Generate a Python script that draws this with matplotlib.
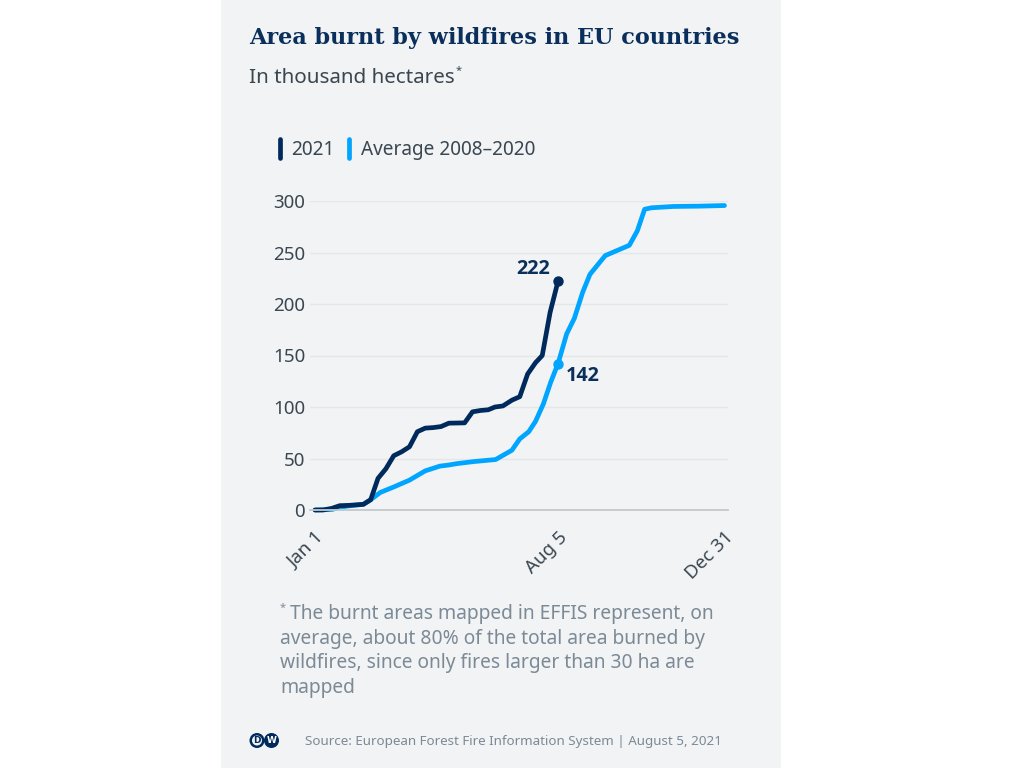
import matplotlib
matplotlib.use("Agg")
import matplotlib.pyplot as plt
from matplotlib.patches import Circle, Rectangle

# day of year, thousand hectares
days_2021 = [0, 7, 15, 22, 30, 43, 49.5, 56, 63, 70, 77, 84, 91, 98, 105, 112, 119, 133,
             140, 147, 154, 160, 167, 175, 182, 189, 196, 202, 209, 216]
area_2021 = [0, 0, 1.6, 4.2, 4.5, 5.5, 10, 30.7, 40, 52.7, 56.5, 61.4, 76, 79.5, 80, 81, 84.3, 84.6,
             95.3, 96.6, 97.3, 100, 101, 106.6, 110, 132, 143, 150, 192, 222]
days_avg = [0, 15, 22, 30, 43, 49.5, 58, 70.5, 84, 98, 111, 118.5, 126, 141, 160.6, 175, 182, 190,
            196, 203, 209.5, 216, 223.7, 230.5, 238, 244.4, 252, 258, 279.4, 286.5, 293, 299,
            318.5, 342, 364]
area_avg = [0, 0.5, 2.5, 4, 5.5, 10, 17, 22.6, 29, 38, 42.6, 43.6, 45, 47, 49, 58, 69, 76,
            86, 103, 124, 142, 171, 186, 211.6, 228.8, 239, 247, 257, 271, 292, 293.4,
            294.7, 295, 295.6]
y_ticks = [0, 50, 100, 150, 200, 250, 300]
x_ticks = [0, 216, 364]
x_labels = ["Jan 1", "Aug 5", "Dec 31"]

NAVY = "#002a5c"
BLUE = "#00a5ff"
PANEL = "#f1f3f5"
TEXT = "#3a4650"
GREY = "#7c8a96"
W, H = 1024, 768

plt.rcParams["font.family"] = ["Noto Sans", "DejaVu Sans"]
fig = plt.figure(figsize=(W / 100, H / 100), dpi=100, facecolor="white")

# overlay in pixel coordinates for panel and text
bg = fig.add_axes([0, 0, 1, 1], zorder=0)
bg.set_xlim(0, W)
bg.set_ylim(H, 0)
bg.axis("off")
bg.add_patch(Rectangle((221, 0), 560, H, color=PANEL, lw=0))

bg.text(249, 38, "Area burnt by wildfires in EU countries", family="DejaVu Serif", weight="bold",
        fontsize=16.15, color="#0b2f5b", va="center")
bg.text(249, 78, "In thousand hectares", fontsize=14.85, color=TEXT, va="center")
bg.text(456, 71, "*", fontsize=8, color=TEXT, va="center")

# legend
bg.plot([280, 280], [139, 158], color=NAVY, lw=3.4, solid_capstyle="round")
bg.text(291, 150, "2021", fontsize=13.7, color=TEXT, va="center")
bg.plot([349, 349], [139, 158], color=BLUE, lw=3.4, solid_capstyle="round")
bg.text(361, 150, "Average 2008\u20132020", fontsize=13.7, color=TEXT, va="center")

# footnote
bg.text(280, 608, "*", fontsize=8, color=GREY, va="center")
footnote = ["The burnt areas mapped in EFFIS represent, on",
            "average, about 80% of the total area burned by",
            "wildfires, since only fires larger than 30 ha are",
            "mapped"]
for i, line in enumerate(footnote):
    x = 289.5 if i == 0 else 280
    bg.text(x, 614 + i * 24.7, line, fontsize=13.85, color=GREY, va="center")

# source + DW logo
bg.add_patch(Circle((257, 740.5), 7.5, color=NAVY, lw=0))
bg.add_patch(Circle((271.5, 740.5), 7.5, color=NAVY, lw=0))
bg.add_patch(Circle((257, 740.5), 5, color=PANEL, lw=0))
bg.text(257, 740.8, "D", fontsize=6.5, family="DejaVu Sans", weight="bold", color=NAVY, ha="center", va="center")
bg.text(271.5, 740.8, "W", fontsize=6.5, family="DejaVu Sans", weight="bold", color="white", ha="center", va="center")
bg.text(305, 741, "Source: European Forest Fire Information System | August 5, 2021",
        fontsize=9.65, color=GREY, va="center")

# chart axes: x 310..728 px, y 510..201 px
px_per_day = 243 / 216
ax = fig.add_axes([310 / W, 1 - 510 / H, 418 / W, 309 / H], zorder=1)
ax.patch.set_alpha(0)
ax.set_xlim(-5 / px_per_day, 413 / px_per_day)
ax.set_ylim(0, 300)
for name in ["top", "left", "right"]:
    ax.spines[name].set_visible(False)
ax.spines["bottom"].set_color("#c3c8cc")
ax.spines["bottom"].set_linewidth(1.3)
ax.set_yticks(y_ticks)
ax.set_xticks(x_ticks, x_labels, rotation=45, ha="right", rotation_mode="anchor")
ax.tick_params(axis="y", length=0, pad=3.5, labelsize=13.5, labelcolor=TEXT)
ax.tick_params(axis="x", length=0, pad=13, labelsize=13.5, labelcolor=TEXT)
ax.grid(axis="y", color="#e4e7ea", lw=1)
ax.set_axisbelow(True)

ax.plot(days_avg, area_avg, color=BLUE, lw=3.4, solid_joinstyle="round", solid_capstyle="round", clip_on=False)
ax.plot(days_2021, area_2021, color=NAVY, lw=3.4, solid_joinstyle="round", solid_capstyle="round", clip_on=False)
ax.scatter([days_2021[-1]], [area_2021[-1]], s=42, color=NAVY, zorder=4, clip_on=False)
ax.scatter([days_avg[21]], [area_avg[21]], s=42, color=BLUE, zorder=4, clip_on=False)
ax.annotate(str(area_2021[-1]), (days_2021[-1], area_2021[-1]), xytext=(-8, 12), textcoords="offset pixels",
            ha="right", va="center", fontsize=14.2, family="Open Sans", weight="bold", color="#0b2f5b")
ax.annotate(str(area_avg[21]), (days_avg[21], area_avg[21]), xytext=(8, -12), textcoords="offset pixels",
            ha="left", va="center", fontsize=14.2, family="Open Sans", weight="bold", color="#0b2f5b")

fig.savefig("out.png", dpi=100)
